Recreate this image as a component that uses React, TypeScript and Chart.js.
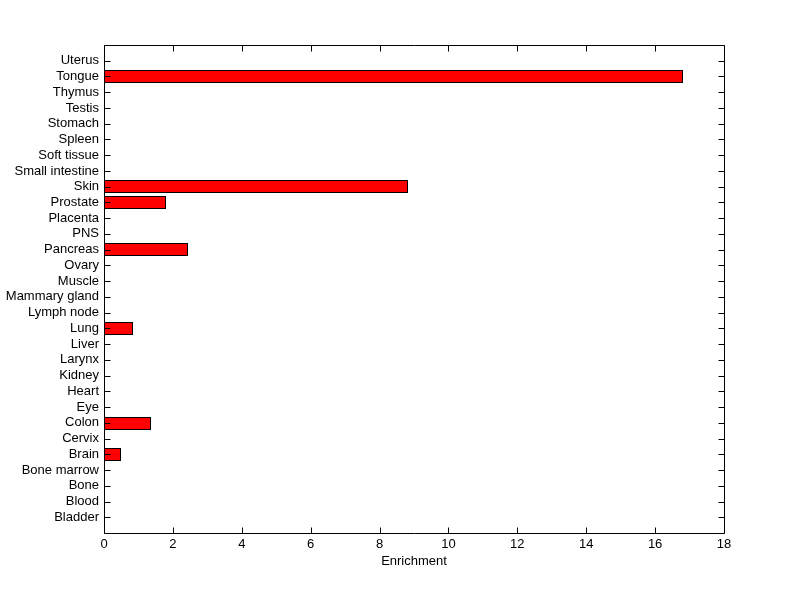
import { useEffect, useRef } from 'react';
import { Chart, registerables } from 'chart.js';

Chart.register(...registerables);

const tissues = [
  'Bladder', 'Blood', 'Bone', 'Bone marrow', 'Brain', 'Cervix', 'Colon', 'Eye', 'Heart', 'Kidney',
  'Larynx', 'Liver', 'Lung', 'Lymph node', 'Mammary gland', 'Muscle', 'Ovary', 'Pancreas', 'PNS', 'Placenta',
  'Prostate', 'Skin', 'Small intestine', 'Soft tissue', 'Spleen', 'Stomach', 'Testis', 'Thymus', 'Tongue', 'Uterus',
];
const enrichment = [
  0, 0, 0, 0, 0.5, 0, 1.35, 0, 0, 0,
  0, 0, 0.85, 0, 0, 0, 0, 2.44, 0, 0,
  1.79, 8.83, 0, 0, 0, 0, 0, 0, 16.81, 0,
];
const xTicks = [0, 2, 4, 6, 8, 10, 12, 14, 16, 18];
const xTitle = 'Enrichment';

const FONT = { family: "'Liberation Sans', Arial, sans-serif", size: 13 };

// Snap bar rectangles (computed by the scales) to whole pixels for crisp edges.
const crispBars = {
  id: 'crispBars',
  beforeDatasetsDraw(chart: any) {
    chart.getSortedVisibleDatasetMetas().forEach((meta: any) => {
      meta.data.forEach((el: any) => {
        const h = Math.round(el.height);
        const top = Math.round(el.y - el.height / 2);
        el.height = h;
        el.y = top + h / 2;
        el.x = Math.round(el.x);
        el.base = Math.round(el.base);
      });
    });
  },
};

const boxTicks = {
  id: 'boxTicks',
  afterDraw(chart: any) {
    const { ctx, chartArea, scales } = chart;
    const { left, right, top, bottom } = chartArea;
    const L = Math.round(left) + 0.5;
    const R = Math.round(right) + 0.5;
    const T = Math.round(top) + 0.5;
    const B = Math.round(bottom) + 0.5;
    const len = 6;
    ctx.save();
    ctx.strokeStyle = '#000';
    ctx.lineWidth = 1;
    ctx.beginPath();
    ctx.moveTo(L, T);
    ctx.lineTo(R, T);
    ctx.lineTo(R, B);
    ctx.lineTo(L, B);
    ctx.closePath();
    xTicks.forEach((v) => {
      const px = Math.round(scales.x.getPixelForValue(v)) + 0.5;
      ctx.moveTo(px, B);
      ctx.lineTo(px, B - len);
      ctx.moveTo(px, T);
      ctx.lineTo(px, T + len);
    });
    tissues.forEach((_, i) => {
      const py = Math.round(scales.y.getPixelForValue(i + 1)) + 0.5;
      ctx.moveTo(L, py);
      ctx.lineTo(L + len, py);
      ctx.moveTo(R, py);
      ctx.lineTo(R - len, py);
    });
    ctx.stroke();
    ctx.restore();
  },
};

export default function App() {
  const ref = useRef<HTMLCanvasElement>(null);

  useEffect(() => {
    if (!ref.current) return;
    const chart = new Chart(ref.current, {
      type: 'bar',
      data: {
        datasets: [
          {
            data: enrichment.map((v, i) => ({ x: v, y: i + 1 })),
            backgroundColor: '#ff0000',
            borderColor: '#000000',
            borderWidth: 1,
            borderSkipped: false,
            categoryPercentage: 1,
            barPercentage: 0.8,
          } as any,
        ],
      },
      options: {
        indexAxis: 'y',
        responsive: false,
        animation: false,
        devicePixelRatio: 1,
        layout: { padding: { top: 45, right: 76, left: 0, bottom: 0 } },
        plugins: { legend: { display: false }, tooltip: { enabled: false } },
        scales: {
          x: {
            type: 'linear',
            min: 0,
            max: 18,
            offset: false,
            grid: { display: false, drawTicks: false },
            border: { display: false },
            ticks: {
              stepSize: 2,
              color: '#000',
              font: FONT,
              padding: 4,
              maxRotation: 0,
              autoSkip: false,
            },
            title: {
              display: true,
              text: xTitle,
              color: '#000',
              font: FONT,
              padding: { top: 0, bottom: 30 },
            },
            afterFit: (scale: any) => {
              scale.height = 66;
            },
          },
          y: {
            type: 'linear',
            min: 0,
            max: 31,
            offset: false,
            grid: { display: false, drawTicks: false, offset: false },
            border: { display: false },
            ticks: {
              stepSize: 1,
              autoSkip: false,
              maxTicksLimit: 40,
              color: '#000',
              font: FONT,
              padding: 5,
              callback: (v: any) => tissues[Number(v) - 1] ?? '',
            },
            afterFit: (scale: any) => {
              scale.width = 104;
            },
          },
        },
      },
      plugins: [crispBars, boxTicks],
    });
    return () => chart.destroy();
  }, []);

  return (
    <div style={{ position: 'absolute', left: 0, top: 0, width: 800, height: 599, background: '#fff' }}>
      <canvas ref={ref} width={800} height={599} />
    </div>
  );
}
